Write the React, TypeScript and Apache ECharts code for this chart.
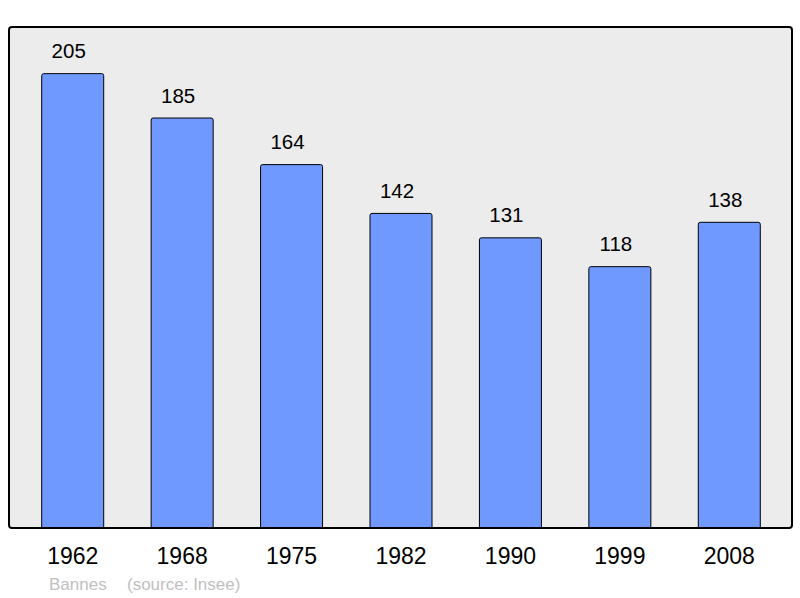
import React, { useEffect, useRef } from "react";
import * as echarts from "echarts";

const categories = ["1962", "1968", "1975", "1982", "1990", "1999", "2008"];
const population = [205, 185, 164, 142, 131, 118, 138];
const placeName = "Bannes";
const sourceText = "(source: Insee)";

export default function App() {
  const ref = useRef<HTMLDivElement>(null);
  useEffect(() => {
    if (!ref.current) return;
    const chart = echarts.init(ref.current, null, { renderer: "svg" });
    chart.setOption({
      animation: false,
      backgroundColor: "#ffffff",
      textStyle: { fontFamily: "Liberation Sans, Arial, sans-serif" },
      graphic: [
        {
          type: "rect",
          z: -10,
          shape: { x: 9, y: 27, width: 783, height: 501, r: 3 },
          style: { fill: "#ececec", stroke: "#000000", lineWidth: 2 },
        },
        {
          type: "text",
          left: 49,
          top: 576,
          style: {
            text: placeName,
            fill: "#c0c0c0",
            font: "17px Liberation Sans, Arial, sans-serif",
          },
        },
        {
          type: "text",
          left: 127,
          top: 576,
          style: {
            text: sourceText,
            fill: "#c0c0c0",
            font: "17px Liberation Sans, Arial, sans-serif",
          },
        },
      ],
      grid: { left: 18, right: 16, top: 27, bottom: 70, containLabel: false },
      xAxis: {
        type: "category",
        data: categories,
        axisLine: { show: false },
        axisTick: { show: false },
        axisLabel: {
          color: "#000",
          fontSize: 23,
          margin: 16,
          fontFamily: "Liberation Sans, Arial, sans-serif",
        },
      },
      yAxis: {
        type: "value",
        min: 0,
        max: 225.8,
        show: false,
        splitLine: { show: false },
      },
      series: [
        {
          type: "bar",
          data: population,
          barWidth: 63,
          itemStyle: {
            color: "#7099ff",
            borderColor: "#000",
            borderWidth: 1,
            borderRadius: [2, 2, 0, 0],
          },
          label: {
            show: true,
            position: "top",
            distance: 12,
            offset: [-4, 0],
            color: "#000",
            fontSize: 20.5,
            fontFamily: "Liberation Sans, Arial, sans-serif",
          },
        },
      ],
    });
    return () => chart.dispose();
  }, []);
  return <div ref={ref} style={{ width: 800, height: 598, position: "absolute", left: 0, top: 0 }} />;
}
